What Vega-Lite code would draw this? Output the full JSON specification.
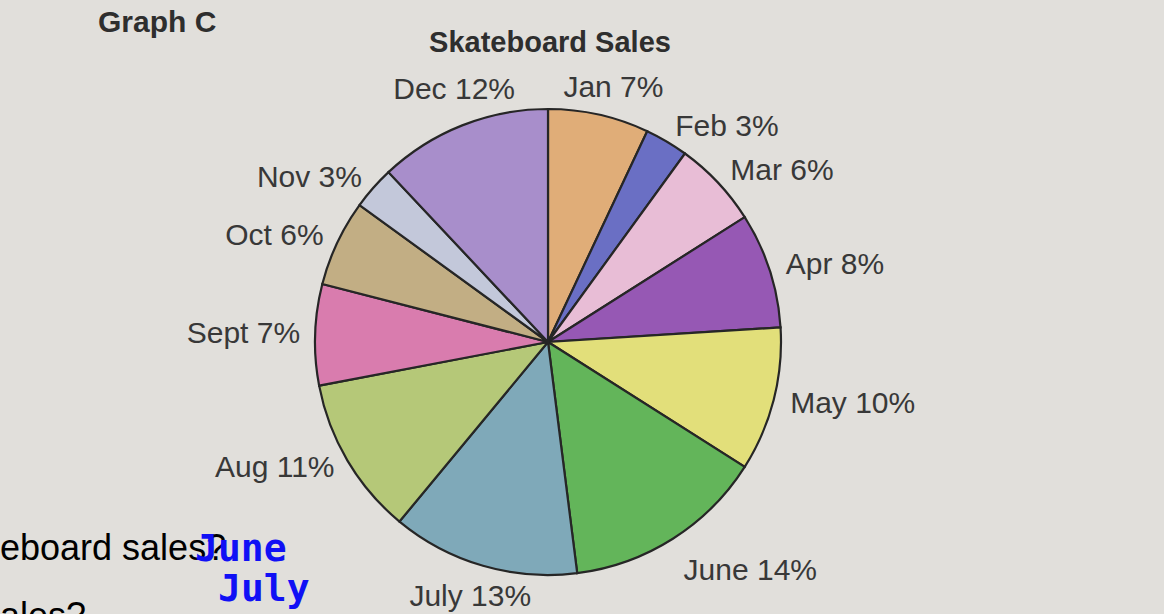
{
  "$schema": "https://vega.github.io/schema/vega-lite/v6.json",
  "width": 466,
  "height": 466,
  "autosize": {"type": "none"},
  "padding": {"left": 315, "top": 109, "right": 383, "bottom": 39},
  "background": "#e1dfdb",
  "config": {"view": {"stroke": null}},
  "data": {"values": [
    {"m": 1, "month": "Jan", "pct": 7, "label": "Jan 7%"},
    {"m": 2, "month": "Feb", "pct": 3, "label": "Feb 3%"},
    {"m": 3, "month": "Mar", "pct": 6, "label": "Mar 6%"},
    {"m": 4, "month": "Apr", "pct": 8, "label": "Apr 8%"},
    {"m": 5, "month": "May", "pct": 10, "label": "May 10%"},
    {"m": 6, "month": "June", "pct": 14, "label": "June 14%"},
    {"m": 7, "month": "July", "pct": 13, "label": "July 13%"},
    {"m": 8, "month": "Aug", "pct": 11, "label": "Aug 11%"},
    {"m": 9, "month": "Sept", "pct": 7, "label": "Sept 7%"},
    {"m": 10, "month": "Oct", "pct": 6, "label": "Oct 6%"},
    {"m": 11, "month": "Nov", "pct": 3, "label": "Nov 3%"},
    {"m": 12, "month": "Dec", "pct": 12, "label": "Dec 12%"}
  ]},
  "layer": [
    {
      "mark": {"type": "arc", "outerRadius": 233, "stroke": "#262626", "strokeWidth": 2.2},
      "encoding": {
        "theta": {"field": "pct", "type": "quantitative", "stack": true},
        "order": {"field": "m", "type": "quantitative"},
        "color": {"field": "month", "type": "nominal", "legend": null,
          "scale": {"domain": ["Jan","Feb","Mar","Apr","May","June","July","Aug","Sept","Oct","Nov","Dec"],
                    "range": ["#e0ad78","#6a6fc4","#e8bdd6","#9658b4","#e2df7a","#63b55a","#7fa9b9","#b5c878","#d97cae","#c2ae84","#c3c8da","#a88ecb"]}}
      }
    },
    {
      "mark": {"type": "text", "radius": 250, "align": "left", "baseline": "middle", "font": "Liberation Sans", "fontSize": 30, "color": "#383838"},
      "encoding": {
        "theta": {"field": "pct", "type": "quantitative", "stack": true},
        "order": {"field": "m", "type": "quantitative"},
        "detail": {"field": "month", "type": "nominal"},
        "text": {"condition": {"test": "indexof(['Feb','Mar','Apr','May'], datum.month) >= 0", "field": "label"}, "value": ""}
      }
    },
    {
      "mark": {"type": "text", "radius": 253, "align": "left", "baseline": "top", "font": "Liberation Sans", "fontSize": 30, "color": "#383838"},
      "encoding": {
        "theta": {"field": "pct", "type": "quantitative", "stack": true},
        "order": {"field": "m", "type": "quantitative"},
        "detail": {"field": "month", "type": "nominal"},
        "text": {"condition": {"test": "datum.month === 'June'", "field": "label"}, "value": ""}
      }
    },
    {
      "mark": {"type": "text", "radius": 248, "align": "right", "baseline": "middle", "font": "Liberation Sans", "fontSize": 30, "color": "#383838"},
      "encoding": {
        "theta": {"field": "pct", "type": "quantitative", "stack": true},
        "order": {"field": "m", "type": "quantitative"},
        "detail": {"field": "month", "type": "nominal"},
        "text": {"condition": {"test": "indexof(['Aug','Sept','Oct','Nov'], datum.month) >= 0", "field": "label"}, "value": ""}
      }
    },
    {
      "mark": {"type": "text", "radius": 245, "align": "center", "baseline": "bottom", "dx": 12, "font": "Liberation Sans", "fontSize": 30, "color": "#383838"},
      "encoding": {
        "theta": {"field": "pct", "type": "quantitative", "stack": true},
        "order": {"field": "m", "type": "quantitative"},
        "detail": {"field": "month", "type": "nominal"},
        "text": {"condition": {"test": "datum.month === 'Jan'", "field": "label"}, "value": ""}
      }
    },
    {
      "mark": {"type": "text", "radius": 255, "align": "center", "baseline": "bottom", "font": "Liberation Sans", "fontSize": 30, "color": "#383838"},
      "encoding": {
        "theta": {"field": "pct", "type": "quantitative", "stack": true},
        "order": {"field": "m", "type": "quantitative"},
        "detail": {"field": "month", "type": "nominal"},
        "text": {"condition": {"test": "datum.month === 'Dec'", "field": "label"}, "value": ""}
      }
    },
    {
      "mark": {"type": "text", "radius": 250, "align": "center", "baseline": "top", "dx": -8, "font": "Liberation Sans", "fontSize": 30, "color": "#383838"},
      "encoding": {
        "theta": {"field": "pct", "type": "quantitative", "stack": true},
        "order": {"field": "m", "type": "quantitative"},
        "detail": {"field": "month", "type": "nominal"},
        "text": {"condition": {"test": "datum.month === 'July'", "field": "label"}, "value": ""}
      }
    },
    {
      "data": {"values": [{"t": "Skateboard Sales"}]},
      "mark": {"type": "text", "align": "center", "baseline": "alphabetic", "font": "Liberation Sans", "fontSize": 29, "fontWeight": "bold", "color": "#2e2e2e"},
      "encoding": {"text": {"field": "t"}, "x": {"value": 235}, "y": {"value": -57}}
    },
    {
      "data": {"values": [{"t": "Graph C"}]},
      "mark": {"type": "text", "align": "left", "baseline": "alphabetic", "font": "Liberation Sans", "fontSize": 30, "fontWeight": "bold", "color": "#2e2e2e"},
      "encoding": {"text": {"field": "t"}, "x": {"value": -217}, "y": {"value": -77}}
    },
    {
      "data": {"values": [{"t": "eboard sales?"}]},
      "mark": {"type": "text", "align": "left", "baseline": "alphabetic", "font": "Liberation Sans", "fontSize": 36, "color": "#000000"},
      "encoding": {"text": {"field": "t"}, "x": {"value": -315}, "y": {"value": 451}}
    },
    {
      "data": {"values": [{"t": "ales?"}]},
      "mark": {"type": "text", "align": "left", "baseline": "alphabetic", "font": "Liberation Sans", "fontSize": 36, "color": "#000000"},
      "encoding": {"text": {"field": "t"}, "x": {"value": -315}, "y": {"value": 519}}
    },
    {
      "data": {"values": [{"t": "June"}]},
      "mark": {"type": "text", "align": "left", "baseline": "alphabetic", "font": "DejaVu Sans Mono", "fontSize": 38, "fontWeight": "bold", "color": "#1010f5"},
      "encoding": {"text": {"field": "t"}, "x": {"value": -120}, "y": {"value": 452}}
    },
    {
      "data": {"values": [{"t": "July"}]},
      "mark": {"type": "text", "align": "left", "baseline": "alphabetic", "font": "DejaVu Sans Mono", "fontSize": 38, "fontWeight": "bold", "color": "#1010f5"},
      "encoding": {"text": {"field": "t"}, "x": {"value": -97}, "y": {"value": 492}}
    }
  ]
}
